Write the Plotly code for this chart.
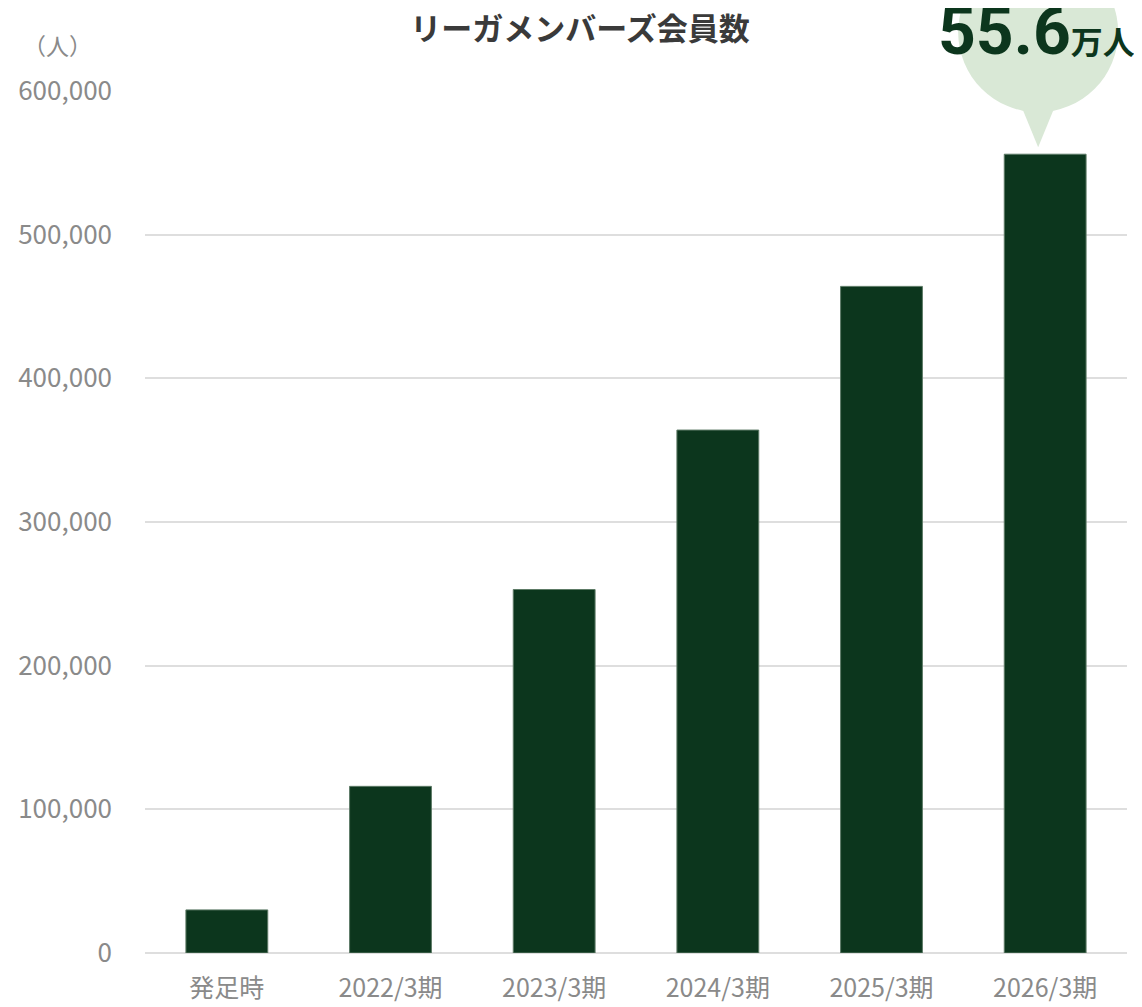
import plotly.graph_objects as go

categories = ["発足時", "2022/3期", "2023/3期", "2024/3期", "2025/3期", "2026/3期"]
members = [30000, 116000, 253000, 364000, 464000, 556000]
y_ticks = [0, 100000, 200000, 300000, 400000, 500000, 600000]
y_max = 600000
title_text = "リーガメンバーズ会員数"
unit_text = "（人）"
callout_unit = "万人"

BAR = "#0c361d"
GRAY = "#8a8a8a"
FONT = "Noto Sans CJK JP"

OFF = 8  # page body margin
W, H = 1142 - OFF, 1007 - OFF
ML, MR, MT, MB = 145 - OFF, 15, 91 - OFF, 54

fig = go.Figure()
fig.add_trace(go.Bar(
    x=categories, y=members,
    marker=dict(color=BAR, line=dict(color="#5d7a66", width=1)),
    width=0.5,
))

# callout anchored at last bar
n = len(categories)
ax = (n - 1 + 0.5) / n
ay = members[-1] / y_max
fig.add_shape(type="circle", xref="paper", yref="paper",
              xsizemode="pixel", ysizemode="pixel",
              xanchor=ax, yanchor=ay,
              x0=-87, x1=73, y0=42, y1=202,
              fillcolor="#d9e8d6", line=dict(width=0), layer="below")
fig.add_shape(type="path", xref="paper", yref="paper",
              xsizemode="pixel", ysizemode="pixel",
              xanchor=ax, yanchor=ay,
              path="M -7 7 L -23 46 L 9 46 Z",
              fillcolor="#d9e8d6", line=dict(width=0), layer="below")

label = f"{members[-1] / 10000:.1f}"
fig.add_annotation(
    xref="paper", yref="paper", x=1, y=1, xanchor="right", yanchor="middle",
    xshift=10, yshift=60, showarrow=False,
    text=f"<b>{label}</b><b><span style='font-size:32px'>{callout_unit}</span></b>",
    font=dict(family="Roboto, " + FONT, size=66, color=BAR),
)
fig.add_annotation(
    xref="paper", yref="paper", x=0, y=1, xanchor="center", yanchor="middle",
    xshift=57 - 145, yshift=91 - 45, showarrow=False,
    text=unit_text, font=dict(family=FONT, size=23, color=GRAY),
)

fig.update_layout(
    width=W, height=H,
    margin=dict(l=ML, r=MR, t=MT, b=MB, autoexpand=False),
    paper_bgcolor="white", plot_bgcolor="white",
    showlegend=False,
    bargap=0.5,
    font=dict(family=FONT, color=GRAY),
    title=dict(text=f"<b>{title_text}</b>", x=(580 - OFF) / W, xanchor="center",
               y=1 - (29 - OFF) / H, yanchor="middle",
               font=dict(family=FONT, size=31, color="#3a3a3a")),
)
fig.update_xaxes(
    showgrid=False, showline=False, ticks="", automargin=False,
    tickfont=dict(size=25, color=GRAY, family=FONT),
    ticklabelstandoff=18,
)
fig.update_yaxes(
    range=[0, y_max], tickvals=y_ticks, automargin=False,
    ticktext=[f"{v:,}" for v in y_ticks],
    showgrid=True, gridcolor="#dedede", gridwidth=2,
    zeroline=True, zerolinecolor="#dedede", zerolinewidth=2,
    showline=False, ticks="",
    tickfont=dict(size=26, color=GRAY, family=FONT),
    ticklabelstandoff=32,
)

fig.write_html("out.html")
